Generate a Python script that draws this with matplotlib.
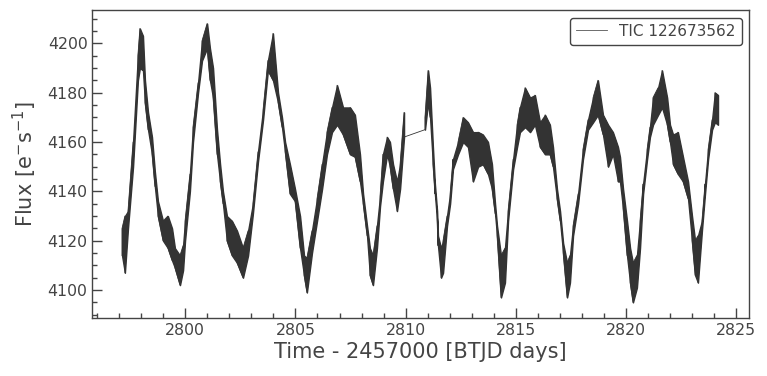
import numpy as np
import matplotlib
matplotlib.use("Agg")
import matplotlib.pyplot as plt
from matplotlib.ticker import MultipleLocator

# Light curve: time knots with lower / upper flux envelope
time = [2797.13, 2797.26, 2797.40, 2797.63, 2797.85, 2797.94, 2798.08, 2798.17, 2798.31, 2798.49,
        2798.62, 2798.76, 2798.99, 2799.21, 2799.40, 2799.53, 2799.76, 2799.90, 2799.99, 2800.21,
        2800.35, 2800.58, 2800.76, 2800.99, 2801.12, 2801.26, 2801.44, 2801.58, 2801.71, 2801.89,
        2802.12, 2802.35, 2802.62, 2802.85, 2803.07, 2803.30, 2803.53, 2803.75, 2803.98, 2804.21,
        2804.39, 2804.53, 2804.75, 2804.98, 2805.21, 2805.39, 2805.52, 2805.75, 2805.98, 2806.21,
        2806.43, 2806.66, 2806.89, 2807.16, 2807.48, 2807.70, 2807.93, 2808.07, 2808.25, 2808.38,
        2808.52, 2808.70, 2808.84, 2808.97, 2809.16, 2809.29, 2809.43, 2809.61, 2809.75, 2809.93,
        2810.88, 2811.02, 2811.11, 2811.24, 2811.33, 2811.43, 2811.47, 2811.61, 2811.70, 2811.88,
        2812.02, 2812.15, 2812.38, 2812.61, 2812.83, 2813.06, 2813.29, 2813.51, 2813.74, 2813.92,
        2814.06, 2814.15, 2814.33, 2814.51, 2814.65, 2814.88, 2815.06, 2815.19, 2815.42, 2815.65,
        2815.87, 2816.10, 2816.33, 2816.55, 2816.69, 2816.87, 2817.01, 2817.15, 2817.33, 2817.46,
        2817.60, 2817.83, 2818.05, 2818.28, 2818.51, 2818.73, 2818.96, 2819.19, 2819.41, 2819.64,
        2819.73, 2819.87, 2820.05, 2820.19, 2820.32, 2820.50, 2820.64, 2820.78, 2820.96, 2821.09,
        2821.23, 2821.46, 2821.64, 2821.87, 2822.00, 2822.14, 2822.36, 2822.59, 2822.82, 2823.00,
        2823.14, 2823.27, 2823.45, 2823.59, 2823.73, 2823.91, 2824.04, 2824.18]

flux_low = [4114, 4107, 4125, 4150, 4185, 4190, 4189, 4176, 4165, 4155,
            4142, 4130, 4120, 4117, 4112, 4109, 4102, 4108, 4120, 4140,
            4160, 4180, 4193, 4198, 4185, 4178, 4155, 4144, 4135, 4120,
            4114, 4111, 4105, 4114, 4131, 4152, 4169, 4189, 4185, 4176,
            4166, 4156, 4139, 4136, 4117, 4106, 4099, 4115, 4128, 4141,
            4155, 4164, 4167, 4163, 4155, 4154, 4144, 4135, 4122, 4106,
            4102, 4117, 4134, 4144, 4155, 4150, 4141, 4132, 4141, 4162,
            4165, 4176, 4170, 4151, 4139, 4128, 4118, 4105, 4107, 4126,
            4135, 4149, 4155, 4160, 4158, 4144, 4150, 4151, 4147, 4141,
            4131, 4122, 4097, 4103, 4128, 4149, 4158, 4164, 4166, 4164,
            4167, 4158, 4155, 4155, 4150, 4137, 4128, 4115, 4097, 4103,
            4122, 4135, 4153, 4165, 4168, 4171, 4163, 4150, 4155, 4144,
            4144, 4133, 4114, 4103, 4095, 4101, 4117, 4139, 4153, 4162,
            4167, 4171, 4174, 4167, 4160, 4151, 4147, 4144, 4137, 4120,
            4106, 4103, 4124, 4139, 4153, 4165, 4168, 4167]

flux_high = [4125, 4130, 4132, 4160, 4195, 4206, 4203, 4185, 4172, 4162,
             4148, 4136, 4128, 4130, 4125, 4117, 4114, 4118, 4128, 4147,
             4166, 4184, 4201, 4208, 4198, 4190, 4165, 4151, 4140, 4130,
             4128, 4124, 4117, 4124, 4135, 4156, 4173, 4193, 4204, 4180,
             4170, 4160, 4151, 4141, 4130, 4114, 4113, 4124, 4137, 4151,
             4164, 4174, 4183, 4174, 4174, 4171, 4155, 4139, 4126, 4117,
             4114, 4126, 4138, 4155, 4162, 4160, 4151, 4144, 4151, 4172,
             4170, 4189, 4182, 4158, 4143, 4132, 4122, 4117, 4120, 4130,
             4139, 4153, 4160, 4170, 4168, 4164, 4164, 4163, 4160, 4151,
             4135, 4126, 4114, 4117, 4132, 4153, 4167, 4174, 4182, 4178,
             4179, 4168, 4171, 4167, 4158, 4141, 4132, 4119, 4111, 4114,
             4126, 4139, 4157, 4169, 4178, 4185, 4171, 4167, 4164, 4158,
             4154, 4141, 4128, 4117, 4111, 4114, 4128, 4143, 4157, 4166,
             4178, 4182, 4189, 4178, 4167, 4163, 4164, 4154, 4144, 4130,
             4120, 4122, 4128, 4143, 4157, 4169, 4180, 4179]

label = "TIC 122673562"
xlabel = "Time - 2457000 [BTJD days]"
ylabel = r"Flux [e$^{-}$s$^{-1}$]"

t = np.asarray(time)
lo = np.asarray(flux_low, dtype=float)
hi = np.asarray(flux_high, dtype=float)

# jagged trace: at each knot go lo->hi or hi->lo, alternating
pairs = np.column_stack([lo, hi])
pairs[1::2] = pairs[1::2, ::-1]
t_arr = np.repeat(t, 2)
f_arr = pairs.ravel()

grey = "#444444"
line_col = "#333333"
plt.rcParams["font.family"] = ["DejaVu Sans"]

fig = plt.figure(figsize=(7.67, 3.76), dpi=100)
ax = fig.add_axes([92.3 / 767, 1 - 317.7 / 376, (749.3 - 92.3) / 767, (317.7 - 10) / 376])

# the dense noisy band, split at the data gap
gap = np.where(np.diff(t) > 0.5)[0] + 1
for seg in np.split(np.arange(len(t)), gap):
    ax.fill_between(t[seg], lo[seg], hi[seg], color=line_col, lw=1.0, edgecolor=line_col)
ax.plot(t_arr, f_arr, color=line_col, lw=0.6, label=label)

ax.set_xlim(2795.78, 2825.60)
ax.set_ylim(4088.8, 4213.5)

ax.xaxis.set_major_locator(MultipleLocator(5))
ax.xaxis.set_minor_locator(MultipleLocator(1))
ax.yaxis.set_major_locator(MultipleLocator(20))
ax.yaxis.set_minor_locator(MultipleLocator(5))
ax.tick_params(which="both", direction="in", colors=grey, labelsize=11.3, top=False, right=False)
ax.tick_params(which="major", length=7, width=1)
ax.tick_params(which="minor", length=3.8, width=1)
for s in ax.spines.values():
    s.set_color(grey)
    s.set_linewidth(1)

ax.set_xlabel(xlabel, fontsize=15, color=grey, labelpad=3)
ax.set_ylabel(ylabel, fontsize=15, color=grey, labelpad=6)

leg = ax.legend(loc="upper right", fontsize=11, frameon=True, fancybox=True,
                edgecolor=grey, framealpha=1, handlelength=2.0, borderpad=0.4)
for txt in leg.get_texts():
    txt.set_color(grey)
for ln in leg.get_lines():
    ln.set_linewidth(0.6)
    ln.set_color("#555555")

fig.savefig("out.png", dpi=100)
